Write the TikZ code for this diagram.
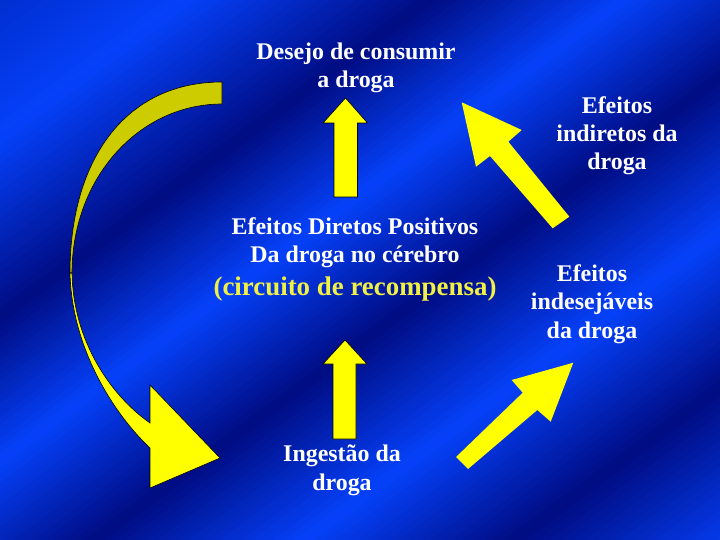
\documentclass[tikz,border=0pt]{standalone}
\usepackage{fontspec}
\setmainfont{Liberation Serif}
\usetikzlibrary{calc}

\definecolor{bgdark}{RGB}{0,12,130}
\definecolor{bglight}{RGB}{5,65,250}
\definecolor{bgmid}{RGB}{0,45,205}
\definecolor{arrowyellow}{RGB}{255,255,0}
\definecolor{arrowolive}{RGB}{204,204,0}
\definecolor{labelyellow}{RGB}{240,240,70}

\begin{document}
\begin{tikzpicture}[x=1bp,y=-1bp,
  blockarrow/.style={fill=arrowyellow,draw=black,line width=0.6pt},
  flatarrow/.style={fill=arrowyellow},
  backarrow/.style={fill=arrowolive,draw=black,line width=0.6pt},
  slidetext/.style={text=white,font=\bfseries\fontsize{24}{28.5}\selectfont,
    align=center,anchor=base,inner sep=0pt}]
  \useasboundingbox (0,0) rectangle (720,540);

  % background: diagonal blue bands
  \begin{scope}
    \clip (0,0) rectangle (720,540);
    \begin{scope}[rotate=-53.5]
      \foreach \ua/\ub/\ca/\cb in {-10/110/bgmid/bglight, 110/255/bglight/bgdark,
          255/370/bgdark/bglight, 370/490/bglight/bgdark, 490/615/bgdark/bglight,
          615/740/bglight/bgdark, 740/880/bgdark/bglight}
        \foreach \k in {0,...,19}{
          \pgfmathsetmacro\ul{\ua+(\ub-\ua)*\k/20}
          \pgfmathsetmacro\ur{\ua+(\ub-\ua)*(\k+1)/20+0.8}
          \pgfmathtruncatemacro\pc{(\k+0.5)*5}
          \fill[\cb!\pc!\ca] (\ul,-900) rectangle (\ur,900);
        }
    \end{scope}
  \end{scope}

  % curved arrow, back half then front half
  \draw[backarrow] (222,82) .. controls (125,82) and (70,160) .. (70,273)
    -- (72,273) .. controls (72,178) and (139,104) .. (222,104) -- cycle;
  \draw[blockarrow] (70,273) .. controls (72,350) and (115,415) .. (150,448)
    -- (150,488) -- (220,458) -- (150,385) -- (150,423)
    .. controls (110,395) and (73,340) .. (72,273) -- cycle;

  % straight arrows
  \draw[blockarrow] (345.5,98) -- (367.5,123) -- (357.5,123) -- (357.5,197)
    -- (334,197) -- (334,123) -- (323,123) -- cycle;
  \draw[blockarrow] (345,340) -- (367,364) -- (356,364) -- (356,439)
    -- (333,439) -- (333,364) -- (323,364) -- cycle;
  \fill[flatarrow] (461.7,102.3) -- (521.7,130) -- (508.3,141.7) -- (569.3,216.7)
    -- (552.7,228.3) -- (490,156) -- (476,166.7) -- cycle;
  \fill[flatarrow] (573.3,362.7) -- (511.7,380) -- (522.7,392.7) -- (456,457)
    -- (468,469) -- (537.3,410) -- (550.7,421.7) -- cycle;

  % texts (anchor is the baseline of the last line)
  \node[slidetext] (desejo) at (356,88) {Desejo de consumir\\a droga};
  \node[slidetext] (diretos) at (355,295) {Efeitos Diretos Positivos\\Da droga no cérebro\\[4bp]
    {\color{labelyellow}\fontsize{27}{32}\selectfont(circuito de recompensa)}};
  \node[slidetext] (indiretos) at (617,170) {Efeitos\\indiretos da\\droga};
  \node[slidetext] (indesejaveis) at (592,338) {Efeitos\\indesejáveis\\da droga};
  \node[slidetext] (ingestao) at (342,490) {Ingestão da\\droga};
\end{tikzpicture}
\end{document}
